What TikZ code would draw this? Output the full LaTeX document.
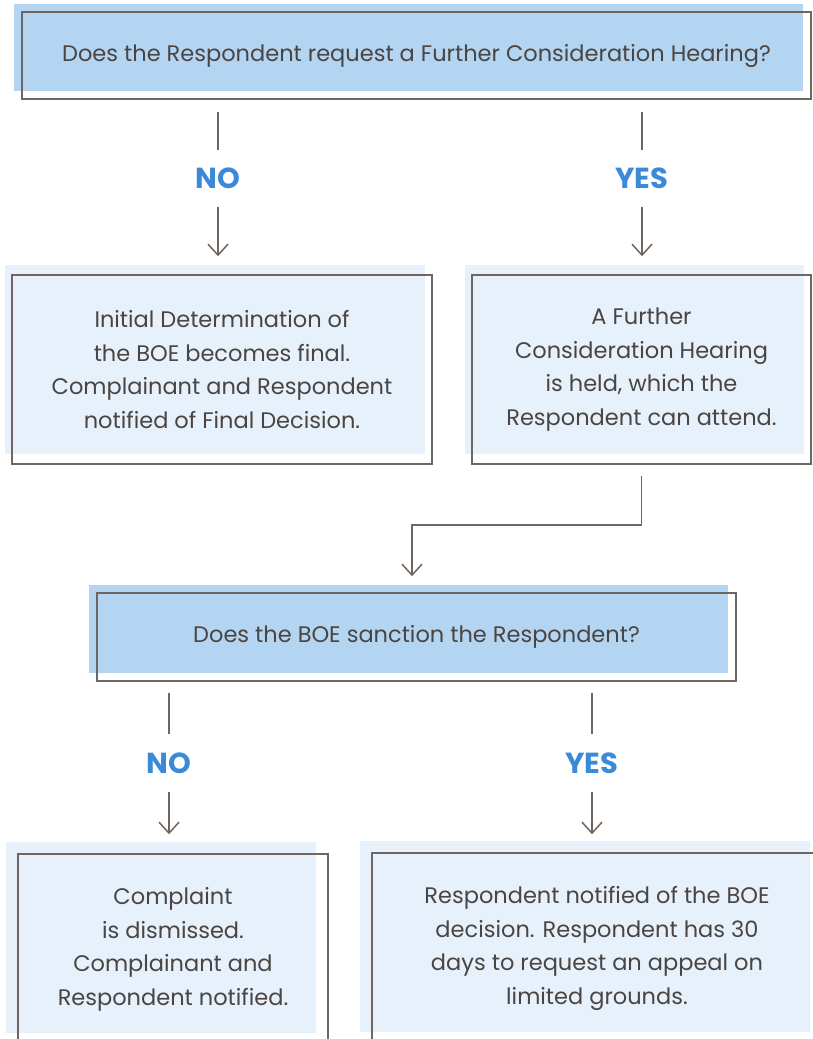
\documentclass[tikz,border=0pt]{standalone}
\usepackage{fontspec}
\setmainfont{Poppins}
\usetikzlibrary{arrows.meta,positioning,calc,shadows}
\definecolor{qblue}{HTML}{B4D5F1}
\definecolor{pblue}{HTML}{E7F1FB}
\definecolor{lgrey}{HTML}{706660}
\definecolor{tgrey}{HTML}{4A4542}
\definecolor{ablue}{HTML}{3B8ADA}
\tikzstyle{outbox}=[draw=lgrey,line width=1.5pt,inner sep=0pt,align=center,text=tgrey,font=\fontsize{22.5}{33.5}\selectfont]
\tikzstyle{qbox}=[outbox,general shadow={fill=qblue,shadow xshift=-8pt,shadow yshift=8pt}]
\tikzstyle{pbox}=[outbox,general shadow={fill=pblue,shadow xshift=-7pt,shadow yshift=10pt}]
\tikzstyle{lowbox}=[outbox,general shadow={fill=pblue,shadow xshift=-12pt,shadow yshift=12pt}]
\tikzstyle{answer}=[text=ablue,font=\fontsize{29}{29}\selectfont\bfseries,inner sep=0pt,minimum height=57pt]
\tikzstyle{plain}=[draw=lgrey,line width=1.5pt]
\tikzstyle{link}=[plain,-{Straight Barb[length=11pt,width=20pt]}]

\begin{document}
\begin{tikzpicture}[x=1pt,y=-1pt]
    \useasboundingbox (0,0) rectangle (812,1039);
    % first question and its two outcomes
    \node [qbox,minimum width=789pt,minimum height=87pt] (hearq) at (416.5,55.5)
      {Does the Respondent request a Further Consideration Hearing?};
    \node [answer] (no1) at (218,178.5) {NO};
    \node [answer] (yes1) at (642,178.5) {YES};
    \node [pbox,minimum width=420pt,minimum height=189pt] (final) at (222,369.5)
      {Initial Determination of\\the BOE becomes final.\\Complainant and Respondent\\notified of Final Decision.};
    \node [pbox,minimum width=339pt,minimum height=189pt] (held) at (641.5,369.5)
      {A Further\\Consideration Hearing\\is held, which the\\Respondent can attend.};
    % second question
    \node [qbox,minimum width=639pt,minimum height=88pt] (sancq) at (416.5,637)
      {Does the BOE sanction the Respondent?};
    \node [answer] (no2) at (169,763) {NO};
    \node [answer] (yes2) at (592,763) {YES};
    \node [lowbox,minimum width=310pt,minimum height=191pt] (dismiss) at (173,949.5)
      {Complaint\\is dismissed.\\Complainant and\\Respondent notified.};
    \node [lowbox,minimum width=450pt,minimum height=191pt] (appeal) at (597,948.5)
      {Respondent notified of the BOE\\decision. Respondent has 30\\days to request an appeal on\\limited grounds.};

    \draw [plain,shorten <=12pt] (hearq.south -| no1) -- (no1);
    \draw [link,shorten >=18pt] (no1) -- (final.north -| no1);
    \draw [plain,shorten <=12pt] (hearq.south -| yes1) -- (yes1);
    \draw [link,shorten >=18pt] (yes1) -- (held.north -| yes1);

    \coordinate (turn) at (412,525);
    \draw [link,shorten <=11pt,shorten >=16pt] (held.south) |- (turn) -- (turn |- sancq.north);

    \draw [plain,shorten <=11pt] (sancq.south -| no2) -- (no2);
    \draw [link,shorten >=19pt] (no2) -- (dismiss.north -| no2);
    \draw [plain,shorten <=11pt] (sancq.south -| yes2) -- (yes2);
    \draw [link,shorten >=18pt] (yes2) -- (appeal.north -| yes2);
\end{tikzpicture}
\end{document}
